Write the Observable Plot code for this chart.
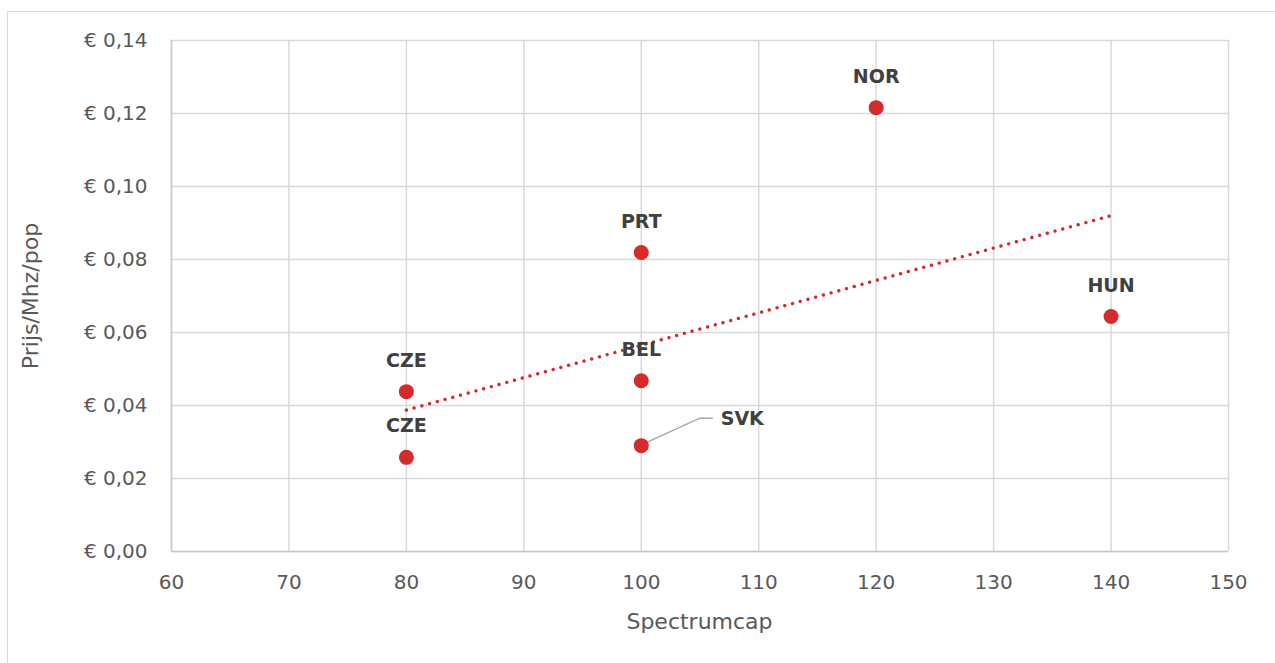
<!DOCTYPE html>
<html>
<head>
<meta charset="utf-8">
<script src="https://cdn.jsdelivr.net/npm/d3@7"></script>
<script src="https://cdn.jsdelivr.net/npm/@observablehq/plot@0.6"></script>
<style>
  html, body { margin: 0; padding: 0; background: #fff; }
  #wrap { position: relative; width: 1275px; height: 663px; overflow: hidden; font-family: "DejaVu Sans", sans-serif; }
  #frame { position: absolute; left: 7px; top: 11px; width: 1300px; height: 700px; border: 1.5px solid #d9d9d9; box-sizing: border-box; }
  #chart { position: absolute; left: 0; top: 0; }
  #chart svg text { font-family: "DejaVu Sans", sans-serif; }
  .axlabel { position: absolute; color: #595959; font-size: 22px; white-space: nowrap; line-height: 1; }
  #xlab { left: 0; width: 1399px; text-align: center; top: 611px; }
  #ylab { left: 31px; top: 296px; transform: translate(-50%, -50%) rotate(-90deg); }
</style>
</head>
<body>
<div id="wrap"><div id="frame"></div><div id="chart"></div>
<div class="axlabel" id="xlab">Spectrumcap</div>
<div class="axlabel" id="ylab">Prijs/Mhz/pop</div>
</div>
<script>
const countries = ["CZE", "CZE", "PRT", "BEL", "SVK", "NOR", "HUN"];
const spectrumcap = [80, 80, 100, 100, 100, 120, 140];
const prijs = [0.0438, 0.0258, 0.0819, 0.0468, 0.0290, 0.1216, 0.0644];
const xTicks = [60, 70, 80, 90, 100, 110, 120, 130, 140, 150];
const yTicks = [0, 0.02, 0.04, 0.06, 0.08, 0.10, 0.12, 0.14];

const data = countries.map((c, i) => ({country: c, x: spectrumcap[i], y: prijs[i]}));
const labelled = data.filter(d => d.country !== "SVK");
const svk = data.filter(d => d.country === "SVK");

const red = "#d42b2b";
const grid = "#d9d9d9";

const leader = (index, scales) => {
  const g = d3.create("svg:g");
  if (!scales || !scales.x || !scales.y) return g.node();
  const px = scales.x(svk[0].x), py = scales.y(svk[0].y);
  g.append("path")
    .attr("d", `M${px},${py}L${px + 59},${py - 27}L${px + 72},${py - 27}`)
    .attr("fill", "none").attr("stroke", "#a6a6a6").attr("stroke-width", 1.5);
  return g.node();
};

const chart = Plot.plot({
  width: 1275,
  height: 663,
  marginLeft: 171,
  marginRight: 47,
  marginTop: 40,
  marginBottom: 112,
  style: {fontFamily: "'DejaVu Sans', sans-serif", fontSize: "20px", color: "#595959", background: "transparent"},
  x: {domain: [60, 150], ticks: xTicks, tickSize: 0, tickPadding: 23, label: null},
  y: {domain: [0, 0.14], ticks: yTicks, tickSize: 0, tickPadding: 24,
      tickFormat: d => "€ " + d.toFixed(2).replace(".", ","), label: null},
  marks: [
    Plot.ruleX(xTicks, {stroke: grid, strokeWidth: 1.5, strokeOpacity: 1}),
    Plot.ruleY(yTicks, {stroke: grid, strokeWidth: 1.5, strokeOpacity: 1}),
    Plot.ruleX([60], {stroke: "#c8c8c8", strokeWidth: 1.5}),
    Plot.ruleY([0], {stroke: "#c8c8c8", strokeWidth: 1.5}),
    Plot.linearRegressionY(data, {x: "x", y: "y", ci: 0, stroke: red, strokeWidth: 3.4,
      strokeDasharray: "0.01 8", strokeLinecap: "round"}),
    leader,
    Plot.dot(data, {x: "x", y: "y", r: 7.5, fill: red, stroke: "none"}),
    Plot.text(labelled, {x: "x", y: "y", text: "country", dy: -31, fill: "#404040",
      fontWeight: "bold", fontSize: 19}),
    Plot.text(svk, {x: "x", y: "y", text: "country", dx: 101, dy: -27, fill: "#404040",
      fontWeight: "bold", fontSize: 19})
  ]
});
document.getElementById("chart").appendChild(chart);
</script>
</body>
</html>
